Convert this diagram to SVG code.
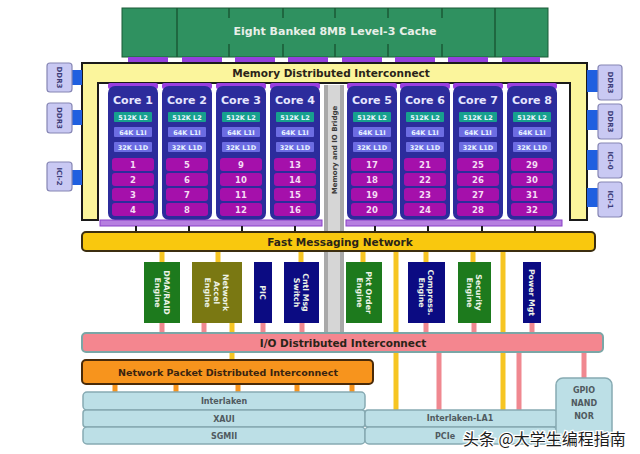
<svg xmlns="http://www.w3.org/2000/svg" width="640" height="454" viewBox="0 0 640 454">
<defs>
<style>
.t{font-family:"DejaVu Sans","Liberation Sans",sans-serif;font-weight:bold;text-anchor:middle}
.bar{font-size:10.5px;fill:#2a2418}
.core{fill:#2c2c9c}
.ctop{fill:#9a3ee0}
.cl{font-size:11px;fill:#e6e6ff}
.l2{fill:#17a08e}
.l1{fill:#6c6ce2}
.sm{font-size:6.5px;fill:#e8f4ff}
.row{fill:#a510ab}
.num{font-size:8.5px;fill:#f4dcf4}
.eng{font-size:7.8px;fill:#eef4e8}
.ddr{fill:#c9c9f3;stroke:#8686b4;stroke-width:1.2}
.ddrt{font-size:7px;fill:#3c3c78}
.blue{fill:#1f5fe0}
.yl{stroke:#f6c522;stroke-width:5}
.pk{stroke:#f08890;stroke-width:5}
.or{stroke:#f7941d;stroke-width:5}
.tick{stroke:#1a1a1a;stroke-width:2}
.lb{fill:#bcdfe6;stroke:#86aab2;stroke-width:1.5}
.lbt{font-size:8px;fill:#505a60}
.cdiv{stroke:#1b5a36;stroke-width:1.5}
.pbar{fill:#9440dc}
</style>
</defs>

<!-- L3 cache -->
<g id="l3cache">
<rect x="122" y="8" width="426" height="49" fill="#2f9160" stroke="#1b5a36" stroke-width="1"/>
<line class="cdiv" x1="177" y1="8" x2="177" y2="57"/>
<line class="cdiv" x1="495" y1="8" x2="495" y2="57"/>
<path class="cdiv" d="M229 8V18M229 44V57M283 8V18M283 44V57M335 8V18M335 44V57M388 8V18M388 44V57M442 8V18M442 44V57"/>
<text class="t" x="335" y="35" font-size="11px" fill="#e8efe8">Eight Banked 8MB Level-3 Cache</text>
</g>

<!-- cache to interconnect links -->
<g id="cache-links">
<rect class="pbar" x="128" y="57" width="40" height="6"/>
<rect class="pbar" x="182" y="57" width="40" height="6"/>
<rect class="pbar" x="235" y="57" width="40" height="6"/>
<rect class="pbar" x="288" y="57" width="40" height="6"/>
<rect class="pbar" x="342" y="57" width="40" height="6"/>
<rect class="pbar" x="395" y="57" width="40" height="6"/>
<rect class="pbar" x="448" y="57" width="40" height="6"/>
<rect class="pbar" x="502" y="57" width="38" height="6"/>
</g>

<!-- Memory distributed interconnect -->
<g id="mem-interconnect">
<path d="M82 63H587V220H570V83H98V220H82Z" fill="#fbf59c" stroke="#1a1a1a" stroke-width="2"/>
<text class="t bar" x="331" y="77">Memory Distributed Interconnect</text>
</g>

<!-- DDR / ICI ports -->
<g id="ports-left">
<rect class="blue" x="72" y="70" width="10" height="15"/>
<rect class="blue" x="72" y="110" width="10" height="15"/>
<rect class="blue" x="72" y="170" width="10" height="15"/>
<rect class="ddr" x="47" y="63" width="25" height="29" rx="3"/>
<rect class="ddr" x="47" y="103" width="25" height="30" rx="3"/>
<rect class="ddr" x="47" y="162" width="25" height="29" rx="3"/>
<text class="t ddrt" transform="translate(59.5 77.5) rotate(90)" y="2.5">DDR3</text>
<text class="t ddrt" transform="translate(59.5 118) rotate(90)" y="2.5">DDR3</text>
<text class="t ddrt" transform="translate(59.5 176.5) rotate(90)" y="2.5">ICI-2</text>
</g>
<g id="ports-right">
<rect class="blue" x="587" y="70" width="11" height="22"/>
<rect class="blue" x="587" y="110" width="11" height="20"/>
<rect class="blue" x="587" y="150" width="11" height="20"/>
<rect class="blue" x="587" y="188" width="11" height="19"/>
<rect class="ddr" x="598" y="65" width="24" height="35" rx="3"/>
<rect class="ddr" x="598" y="104" width="24" height="35" rx="3"/>
<rect class="ddr" x="598" y="143" width="24" height="35" rx="3"/>
<rect class="ddr" x="598" y="182" width="24" height="35" rx="3"/>
<text class="t ddrt" transform="translate(610 82.5) rotate(90)" y="2.5">DDR3</text>
<text class="t ddrt" transform="translate(610 121.5) rotate(90)" y="2.5">DDR3</text>
<text class="t ddrt" transform="translate(610 160.5) rotate(90)" y="2.5">ICI-0</text>
<text class="t ddrt" transform="translate(610 199.5) rotate(90)" y="2.5">ICI-1</text>
</g>

<!-- Memory and IO bridge -->
<g id="bridge">
<rect x="324" y="85" width="20" height="248" fill="#a9a9a9"/>
<rect x="328" y="85" width="12" height="248" fill="#d6d6d6"/>
<text class="t" transform="translate(334 150) rotate(-90)" y="2.5" font-size="7px" fill="#3a3a3a" font-weight="normal">Memory and IO Bridge</text>
</g>

<!-- Cores -->
<g id="core1">
<rect class="ctop" x="108" y="83" width="50" height="6" rx="2"/>
<rect class="core" x="108" y="86" width="50" height="134" rx="7"/>
<text class="t cl" x="133" y="104">Core 1</text>
<rect class="l2" x="114" y="112" width="38" height="10" rx="1"/><text class="t sm" x="133" y="119.5">512K L2</text>
<rect class="l1" x="114" y="127" width="38" height="10" rx="1"/><text class="t sm" x="133" y="134.5">64K L1I</text>
<rect class="l1" x="114" y="142" width="38" height="10" rx="1"/><text class="t sm" x="133" y="149.5">32K L1D</text>
<rect class="row" x="112" y="158" width="42" height="13" rx="3"/><text class="t num" x="133" y="167.5">1</text>
<rect class="row" x="112" y="173" width="42" height="13" rx="3"/><text class="t num" x="133" y="182.5">2</text>
<rect class="row" x="112" y="188" width="42" height="13" rx="3"/><text class="t num" x="133" y="197.5">3</text>
<rect class="row" x="112" y="203" width="42" height="13" rx="3"/><text class="t num" x="133" y="212.5">4</text>
</g>
<g id="core2">
<rect class="ctop" x="162" y="83" width="50" height="6" rx="2"/>
<rect class="core" x="162" y="86" width="50" height="134" rx="7"/>
<text class="t cl" x="187" y="104">Core 2</text>
<rect class="l2" x="168" y="112" width="38" height="10" rx="1"/><text class="t sm" x="187" y="119.5">512K L2</text>
<rect class="l1" x="168" y="127" width="38" height="10" rx="1"/><text class="t sm" x="187" y="134.5">64K L1I</text>
<rect class="l1" x="168" y="142" width="38" height="10" rx="1"/><text class="t sm" x="187" y="149.5">32K L1D</text>
<rect class="row" x="166" y="158" width="42" height="13" rx="3"/><text class="t num" x="187" y="167.5">5</text>
<rect class="row" x="166" y="173" width="42" height="13" rx="3"/><text class="t num" x="187" y="182.5">6</text>
<rect class="row" x="166" y="188" width="42" height="13" rx="3"/><text class="t num" x="187" y="197.5">7</text>
<rect class="row" x="166" y="203" width="42" height="13" rx="3"/><text class="t num" x="187" y="212.5">8</text>
</g>
<g id="core3">
<rect class="ctop" x="216" y="83" width="50" height="6" rx="2"/>
<rect class="core" x="216" y="86" width="50" height="134" rx="7"/>
<text class="t cl" x="241" y="104">Core 3</text>
<rect class="l2" x="222" y="112" width="38" height="10" rx="1"/><text class="t sm" x="241" y="119.5">512K L2</text>
<rect class="l1" x="222" y="127" width="38" height="10" rx="1"/><text class="t sm" x="241" y="134.5">64K L1I</text>
<rect class="l1" x="222" y="142" width="38" height="10" rx="1"/><text class="t sm" x="241" y="149.5">32K L1D</text>
<rect class="row" x="220" y="158" width="42" height="13" rx="3"/><text class="t num" x="241" y="167.5">9</text>
<rect class="row" x="220" y="173" width="42" height="13" rx="3"/><text class="t num" x="241" y="182.5">10</text>
<rect class="row" x="220" y="188" width="42" height="13" rx="3"/><text class="t num" x="241" y="197.5">11</text>
<rect class="row" x="220" y="203" width="42" height="13" rx="3"/><text class="t num" x="241" y="212.5">12</text>
</g>
<g id="core4">
<rect class="ctop" x="270" y="83" width="50" height="6" rx="2"/>
<rect class="core" x="270" y="86" width="50" height="134" rx="7"/>
<text class="t cl" x="295" y="104">Core 4</text>
<rect class="l2" x="276" y="112" width="38" height="10" rx="1"/><text class="t sm" x="295" y="119.5">512K L2</text>
<rect class="l1" x="276" y="127" width="38" height="10" rx="1"/><text class="t sm" x="295" y="134.5">64K L1I</text>
<rect class="l1" x="276" y="142" width="38" height="10" rx="1"/><text class="t sm" x="295" y="149.5">32K L1D</text>
<rect class="row" x="274" y="158" width="42" height="13" rx="3"/><text class="t num" x="295" y="167.5">13</text>
<rect class="row" x="274" y="173" width="42" height="13" rx="3"/><text class="t num" x="295" y="182.5">14</text>
<rect class="row" x="274" y="188" width="42" height="13" rx="3"/><text class="t num" x="295" y="197.5">15</text>
<rect class="row" x="274" y="203" width="42" height="13" rx="3"/><text class="t num" x="295" y="212.5">16</text>
</g>
<g id="core5">
<rect class="ctop" x="347" y="83" width="50" height="6" rx="2"/>
<rect class="core" x="347" y="86" width="50" height="134" rx="7"/>
<text class="t cl" x="372" y="104">Core 5</text>
<rect class="l2" x="353" y="112" width="38" height="10" rx="1"/><text class="t sm" x="372" y="119.5">512K L2</text>
<rect class="l1" x="353" y="127" width="38" height="10" rx="1"/><text class="t sm" x="372" y="134.5">64K L1I</text>
<rect class="l1" x="353" y="142" width="38" height="10" rx="1"/><text class="t sm" x="372" y="149.5">32K L1D</text>
<rect class="row" x="351" y="158" width="42" height="13" rx="3"/><text class="t num" x="372" y="167.5">17</text>
<rect class="row" x="351" y="173" width="42" height="13" rx="3"/><text class="t num" x="372" y="182.5">18</text>
<rect class="row" x="351" y="188" width="42" height="13" rx="3"/><text class="t num" x="372" y="197.5">19</text>
<rect class="row" x="351" y="203" width="42" height="13" rx="3"/><text class="t num" x="372" y="212.5">20</text>
</g>
<g id="core6">
<rect class="ctop" x="400" y="83" width="50" height="6" rx="2"/>
<rect class="core" x="400" y="86" width="50" height="134" rx="7"/>
<text class="t cl" x="425" y="104">Core 6</text>
<rect class="l2" x="406" y="112" width="38" height="10" rx="1"/><text class="t sm" x="425" y="119.5">512K L2</text>
<rect class="l1" x="406" y="127" width="38" height="10" rx="1"/><text class="t sm" x="425" y="134.5">64K L1I</text>
<rect class="l1" x="406" y="142" width="38" height="10" rx="1"/><text class="t sm" x="425" y="149.5">32K L1D</text>
<rect class="row" x="404" y="158" width="42" height="13" rx="3"/><text class="t num" x="425" y="167.5">21</text>
<rect class="row" x="404" y="173" width="42" height="13" rx="3"/><text class="t num" x="425" y="182.5">22</text>
<rect class="row" x="404" y="188" width="42" height="13" rx="3"/><text class="t num" x="425" y="197.5">23</text>
<rect class="row" x="404" y="203" width="42" height="13" rx="3"/><text class="t num" x="425" y="212.5">24</text>
</g>
<g id="core7">
<rect class="ctop" x="453" y="83" width="50" height="6" rx="2"/>
<rect class="core" x="453" y="86" width="50" height="134" rx="7"/>
<text class="t cl" x="478" y="104">Core 7</text>
<rect class="l2" x="459" y="112" width="38" height="10" rx="1"/><text class="t sm" x="478" y="119.5">512K L2</text>
<rect class="l1" x="459" y="127" width="38" height="10" rx="1"/><text class="t sm" x="478" y="134.5">64K L1I</text>
<rect class="l1" x="459" y="142" width="38" height="10" rx="1"/><text class="t sm" x="478" y="149.5">32K L1D</text>
<rect class="row" x="457" y="158" width="42" height="13" rx="3"/><text class="t num" x="478" y="167.5">25</text>
<rect class="row" x="457" y="173" width="42" height="13" rx="3"/><text class="t num" x="478" y="182.5">26</text>
<rect class="row" x="457" y="188" width="42" height="13" rx="3"/><text class="t num" x="478" y="197.5">27</text>
<rect class="row" x="457" y="203" width="42" height="13" rx="3"/><text class="t num" x="478" y="212.5">28</text>
</g>
<g id="core8">
<rect class="ctop" x="507" y="83" width="50" height="6" rx="2"/>
<rect class="core" x="507" y="86" width="50" height="134" rx="7"/>
<text class="t cl" x="532" y="104">Core 8</text>
<rect class="l2" x="513" y="112" width="38" height="10" rx="1"/><text class="t sm" x="532" y="119.5">512K L2</text>
<rect class="l1" x="513" y="127" width="38" height="10" rx="1"/><text class="t sm" x="532" y="134.5">64K L1I</text>
<rect class="l1" x="513" y="142" width="38" height="10" rx="1"/><text class="t sm" x="532" y="149.5">32K L1D</text>
<rect class="row" x="511" y="158" width="42" height="13" rx="3"/><text class="t num" x="532" y="167.5">29</text>
<rect class="row" x="511" y="173" width="42" height="13" rx="3"/><text class="t num" x="532" y="182.5">30</text>
<rect class="row" x="511" y="188" width="42" height="13" rx="3"/><text class="t num" x="532" y="197.5">31</text>
<rect class="row" x="511" y="203" width="42" height="13" rx="3"/><text class="t num" x="532" y="212.5">32</text>
</g>

<!-- core bottom strips -->
<g id="core-strips">
<rect x="100" y="220" width="222" height="6" fill="#b67fe0" stroke="#8a40c8" stroke-width="1"/>
<rect x="346" y="220" width="216" height="6" fill="#b67fe0" stroke="#8a40c8" stroke-width="1"/>
</g>

<!-- connectors -->
<g id="connectors">
<path class="tick" d="M136 226V232M189 226V232M242 226V232M295 226V232M375 226V232M428 226V232M482 226V232M535 226V232"/>
<path class="yl" d="M162 251V262M218 251V262M301 251V262M363 251V262M426 251V262M473 251V262"/>
<path class="yl" d="M396 251V410M503 251V410"/>
<path class="yl" d="M232 323V360"/>
<path class="pk" d="M162 323V334M204 323V334M263 323V334M302 323V334M426 323V334M474 323V334M532 323V334"/>
<path class="pk" d="M439 351V410M519 351V410M584 351V379"/>
<path class="or" d="M115 384V392M176 384V392M238 384V392M297 384V392M352 384V392"/>
</g>

<!-- Fast Messaging Network -->
<g id="fmn">
<rect x="82" y="232" width="513" height="19" rx="4" fill="#f9c80e" stroke="#3c2e10" stroke-width="2"/>
<text class="t bar" x="340" y="245.5">Fast Messaging Network</text>
</g>

<!-- Engines -->
<g id="dma-raid">
<rect x="144" y="262" width="36" height="61" fill="#1d7a1d"/>
<text class="t eng" transform="translate(162 292.5) rotate(90)"><tspan x="0" y="-1.5">DMA/RAID</tspan><tspan x="0" y="7.5">Engine</tspan></text>
</g>
<g id="network-accel">
<rect x="192" y="262" width="50" height="61" fill="#7a7812"/>
<text class="t eng" transform="translate(217 292.5) rotate(90)"><tspan x="0" y="-6">Network</tspan><tspan x="0" y="3">Accel</tspan><tspan x="0" y="12">Engine</tspan></text>
</g>
<g id="pic">
<rect x="254" y="262" width="18" height="61" fill="#0b0b82"/>
<text class="t eng" transform="translate(263 292.5) rotate(90)" y="3">PIC</text>
</g>
<g id="cntl-msg">
<rect x="284" y="262" width="35" height="61" fill="#0b0b82"/>
<text class="t eng" transform="translate(301.5 292.5) rotate(90)"><tspan x="0" y="-1.5">Cntl Msg</tspan><tspan x="0" y="7.5">Switch</tspan></text>
</g>
<g id="pkt-order">
<rect x="346" y="262" width="36" height="61" fill="#1d7a1d"/>
<text class="t eng" transform="translate(364 292.5) rotate(90)"><tspan x="0" y="-1.5">Pkt Order</tspan><tspan x="0" y="7.5">Engine</tspan></text>
</g>
<g id="compress">
<rect x="408" y="262" width="37" height="61" fill="#0b0b82"/>
<text class="t eng" transform="translate(426.5 292.5) rotate(90)"><tspan x="0" y="-1.5">Compress.</tspan><tspan x="0" y="7.5">Engine</tspan></text>
</g>
<g id="security">
<rect x="458" y="262" width="33" height="61" fill="#1d7a1d"/>
<text class="t eng" transform="translate(474.5 292.5) rotate(90)"><tspan x="0" y="-1.5">Security</tspan><tspan x="0" y="7.5">Engine</tspan></text>
</g>
<g id="power-mgt">
<rect x="523" y="262" width="18" height="61" fill="#0b0b82"/>
<text class="t eng" transform="translate(532 292.5) rotate(90)" y="3">Power Mgt</text>
</g>

<!-- I/O Distributed Interconnect -->
<g id="io-interconnect">
<rect x="82" y="333" width="521" height="19" rx="4" fill="#f4868f" stroke="#7aa6a6" stroke-width="2"/>
<text class="t bar" x="343" y="346.5">I/O Distributed Interconnect</text>
</g>

<!-- Network Packet Distributed Interconnect -->
<g id="np-interconnect">
<rect x="82" y="360" width="291" height="24" rx="4" fill="#f7941d" stroke="#4a2a08" stroke-width="2"/>
<text class="t" x="228" y="376" font-size="9.5px" fill="#3a2410">Network Packet Distributed Interconnect</text>
</g>

<!-- I/O blocks -->
<g id="interlaken">
<rect class="lb" x="83" y="392" width="282" height="18" rx="4"/>
<text class="t lbt" x="224" y="404" font-size="7px">Interlaken</text>
</g>
<g id="xaui">
<rect class="lb" x="83" y="410" width="282" height="17" rx="3"/>
<text class="t lbt" x="224" y="421.5">XAUI</text>
</g>
<g id="sgmii">
<rect class="lb" x="83" y="427" width="282" height="17" rx="4"/>
<text class="t lbt" x="224" y="438.5">SGMII</text>
</g>
<g id="interlaken-la1">
<rect class="lb" x="365" y="410" width="192" height="17" rx="3"/>
<text class="t lbt" x="460" y="420.5">Interlaken-LA1</text>
</g>
<g id="pcie">
<rect class="lb" x="365" y="427" width="192" height="17" rx="4"/>
<text class="t lbt" x="445" y="438.5">PCIe</text>
</g>
<g id="gpio">
<rect class="lb" x="556" y="378" width="56" height="66" rx="7"/>
<text class="t lbt" x="584" y="393"><tspan x="584" y="393">GPIO</tspan><tspan x="584" y="406">NAND</tspan><tspan x="584" y="419">NOR</tspan></text>
</g>

<!-- watermark -->
<text x="463" y="445" font-family="'Noto Sans CJK SC',sans-serif" font-size="16px" fill="#1c1c1c" stroke="#ffffff" stroke-width="2.5" paint-order="stroke">头条 @大学生编程指南</text>
</svg>
